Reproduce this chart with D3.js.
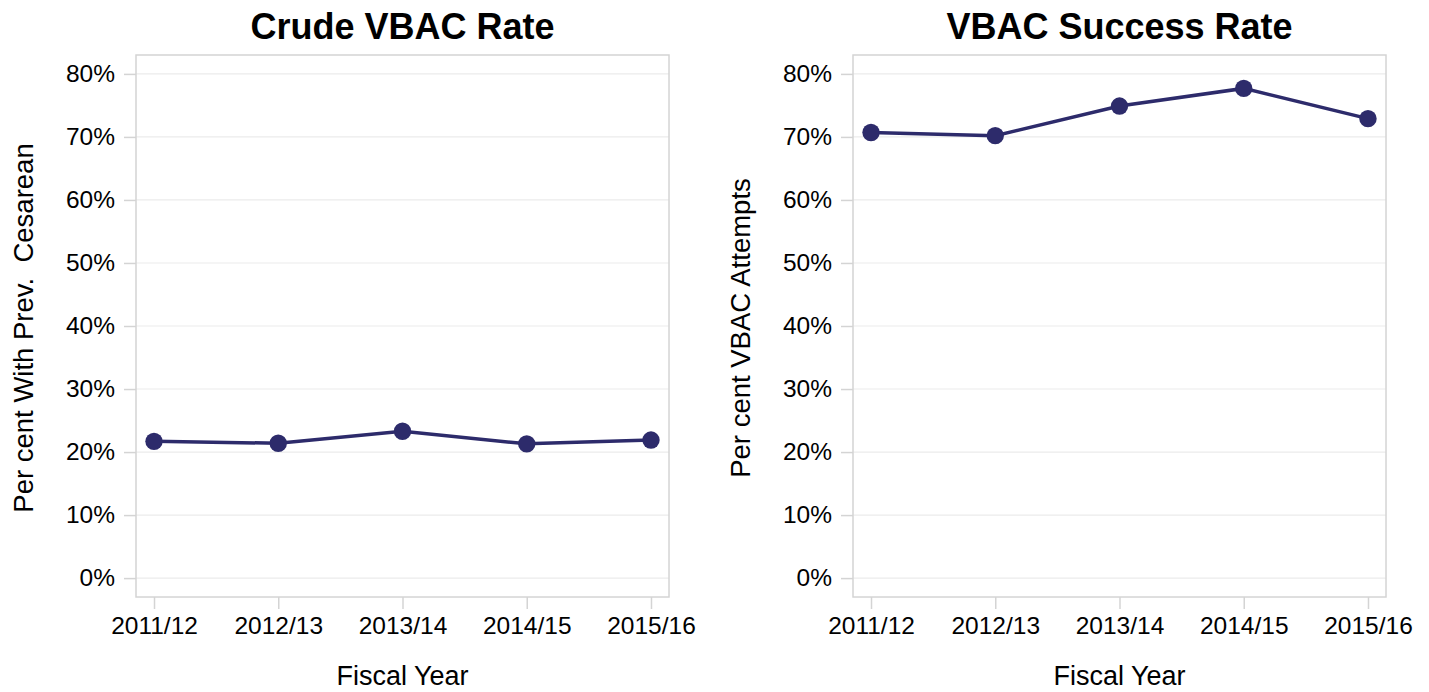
<!DOCTYPE html>
<html>
<head>
<meta charset="utf-8">
<script src="https://cdn.jsdelivr.net/npm/d3@7"></script>
<style>
  html, body { margin: 0; padding: 0; background: #fff; }
  svg { display: block; font-family: "Liberation Sans", Arial, sans-serif; }
</style>
</head>
<body>
<svg id="chart" width="1429" height="692"></svg>
<script>
// Fiscal years shown along the x axis of both panels
const years = ["2011/12", "2012/13", "2013/14", "2014/15", "2015/16"];
// Percent of women with a previous cesarean who delivered vaginally
const crudeRate = [21.7, 21.4, 23.3, 21.3, 21.9];
// Percent of VBAC attempts that succeeded
const successRate = [70.7, 70.2, 74.9, 77.7, 72.9];
// Y axis tick values (percent)
const yTicks = [0, 10, 20, 30, 40, 50, 60, 70, 80];

const panels = [
  { title: "Crude VBAC Rate", yTitle: "Per cent With Prev.  Cesarean", values: crudeRate, left: 136 },
  { title: "VBAC Success Rate", yTitle: "Per cent VBAC Attempts", values: successRate, left: 853 }
];

const svg = d3.select("#chart");
const panelW = 533, plotTop = 55, plotBottom = 597;
const lineColor = "#2d2b6b";

panels.forEach(p => {
  const x = d3.scalePoint().domain(years).range([p.left, p.left + panelW]).padding(0.145);
  const y = d3.scaleLinear().domain([-3, 83]).range([plotBottom, plotTop]);
  const g = svg.append("g");

  // horizontal gridlines
  g.selectAll("line.grid").data(yTicks).join("line")
    .attr("class", "grid")
    .attr("x1", p.left).attr("x2", p.left + panelW)
    .attr("y1", d => y(d)).attr("y2", d => y(d))
    .attr("stroke", "#ebebeb").attr("stroke-width", 1.2);

  // panel frame
  g.append("rect")
    .attr("x", p.left).attr("y", plotTop)
    .attr("width", panelW).attr("height", plotBottom - plotTop)
    .attr("fill", "none").attr("stroke", "#d4d4d4").attr("stroke-width", 1.5);

  // y axis
  const yAxis = g.append("g").attr("transform", `translate(${p.left},0)`)
    .call(d3.axisLeft(y).tickValues(yTicks).tickFormat(d => d + "%").tickSize(12).tickPadding(9));
  yAxis.select(".domain").remove();
  yAxis.selectAll(".tick line").attr("stroke", "#d4d4d4").attr("stroke-width", 1.5);
  yAxis.selectAll(".tick text").attr("font-size", 24.5).attr("fill", "#000")
    .attr("font-family", "Liberation Sans, Arial, sans-serif");

  // x axis
  const xAxis = g.append("g").attr("transform", `translate(0,${plotBottom})`)
    .call(d3.axisBottom(x).tickSize(12).tickPadding(8));
  xAxis.select(".domain").remove();
  xAxis.selectAll(".tick line").attr("stroke", "#d4d4d4").attr("stroke-width", 1.5);
  xAxis.selectAll(".tick text").attr("font-size", 24.5).attr("fill", "#000")
    .attr("font-family", "Liberation Sans, Arial, sans-serif");

  // series line
  const line = d3.line().x((d, i) => x(years[i])).y(d => y(d));
  g.append("path").datum(p.values)
    .attr("d", line).attr("fill", "none")
    .attr("stroke", lineColor).attr("stroke-width", 3.5);

  // series points
  g.selectAll("circle").data(p.values).join("circle")
    .attr("cx", (d, i) => x(years[i])).attr("cy", d => y(d))
    .attr("r", 8.7).attr("fill", lineColor);

  const cx = p.left + panelW / 2;
  // panel title
  g.append("text").attr("x", cx).attr("y", 39)
    .attr("text-anchor", "middle").attr("font-size", 36).attr("font-weight", "bold")
    .attr("fill", "#000").text(p.title);

  // x axis title
  g.append("text").attr("x", cx).attr("y", 685)
    .attr("text-anchor", "middle").attr("font-size", 27)
    .attr("fill", "#000").text("Fiscal Year");

  // y axis title
  g.append("text")
    .attr("transform", `translate(${p.left - 103},${(plotTop + plotBottom) / 2 + 2}) rotate(-90)`)
    .attr("text-anchor", "middle").attr("font-size", 27.5)
    .attr("fill", "#000").style("white-space", "pre").text(p.yTitle);
});
</script>
</body>
</html>
